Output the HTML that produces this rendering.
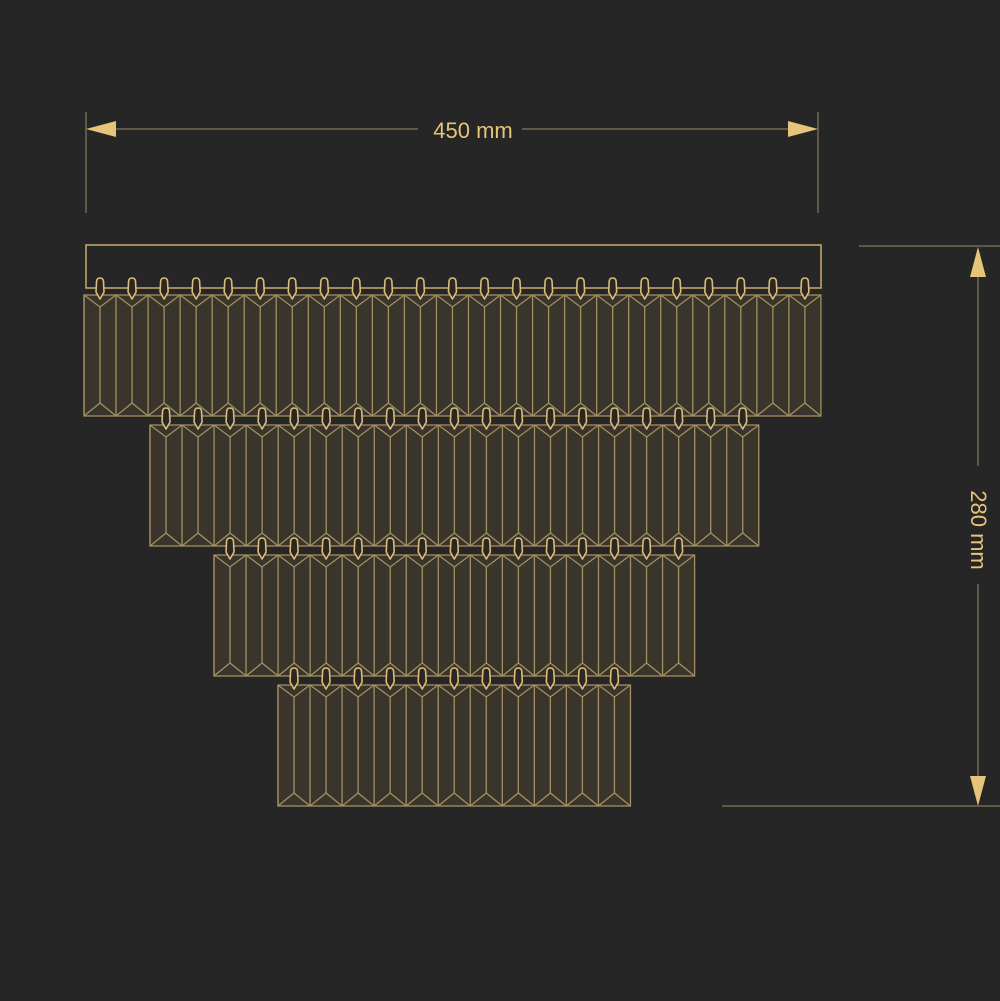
<!DOCTYPE html>
<html><head><meta charset="utf-8"><style>
html,body{margin:0;padding:0;background:#262626;}
svg{display:block;}
</style></head><body>
<svg id="s" width="1000" height="1001" viewBox="0 0 1000 1001" xmlns="http://www.w3.org/2000/svg">
<rect width="1000" height="1001" fill="#262626"/>
<g stroke="#9a8961" stroke-width="1" fill="none">
<line x1="86" y1="112" x2="86" y2="213"/>
<line x1="818" y1="112" x2="818" y2="213"/>
<line x1="100" y1="129" x2="418" y2="129"/>
<line x1="522" y1="129" x2="805" y2="129"/>
<line x1="859" y1="246" x2="1000" y2="246"/>
<line x1="722" y1="806" x2="1000" y2="806"/>
<line x1="978" y1="260" x2="978" y2="466"/>
<line x1="978" y1="584" x2="978" y2="792"/>
</g>
<g fill="#e6c47a">
<polygon points="86,129 116,121 116,137"/>
<polygon points="818,129 788,121 788,137"/>
<polygon points="978,247 970,277 986,277"/>
<polygon points="978,806 970,776 986,776"/>
</g>
<text x="473" y="138" font-family="Liberation Sans, sans-serif" font-size="22" fill="#e6c47a" text-anchor="middle">450 mm</text>
<text x="0" y="0" transform="translate(971,530) rotate(90)" font-family="Liberation Sans, sans-serif" font-size="22" fill="#e6c47a" text-anchor="middle">280 mm</text>
<rect x="86" y="245" width="735" height="43" fill="none" stroke="#c9ab6a" stroke-width="1.5"/>
<g id="tiers"></g>
</svg>
<script>
var g=document.getElementById('tiers');
var tiers=[[84,295,23],[150,425,19],[214,555,15],[278,685,11]];
var out='';
var S='stroke="#a3905f" stroke-width="1.3"';
tiers.forEach(function(t){
 var x0=t[0],y0=t[1],n=t[2],w=32.04,h=121;
 out+='<rect x="'+x0+'" y="'+y0+'" width="'+(n*w)+'" height="'+h+'" fill="#39352c" '+S+'/>';
 for(var i=0;i<n;i++){
  var a=x0+i*w,c=a+w/2,b=a+w;
  out+='<line x1="'+a+'" y1="'+y0+'" x2="'+a+'" y2="'+(y0+h)+'" '+S+'/>';
  out+='<line x1="'+c+'" y1="'+(y0+12)+'" x2="'+c+'" y2="'+(y0+h-13)+'" '+S+'/>';
  out+='<polyline points="'+a+','+y0+' '+c+','+(y0+12)+' '+b+','+y0+'" fill="none" '+S+'/>';
  out+='<polyline points="'+a+','+(y0+h)+' '+c+','+(y0+h-13)+' '+b+','+(y0+h)+'" fill="none" '+S+'/>';
 }
 for(var i=0;i<n;i++){
  var c=x0+i*w+w/2,y=y0-16;
  out+='<path d="M'+(c-3.5)+','+(y+3)+' Q'+(c-3.5)+','+(y-1)+' '+c+','+(y-1)+' Q'+(c+3.5)+','+(y-1)+' '+(c+3.5)+','+(y+3)+' L'+(c+4)+','+(y+13)+' L'+c+','+(y+20)+' L'+(c-4)+','+(y+13)+' Z" fill="#2a2824" stroke="#dcbc78" stroke-width="1.6" stroke-linejoin="round"/>';
 }
});
g.innerHTML=out;
</script>
</body></html>
